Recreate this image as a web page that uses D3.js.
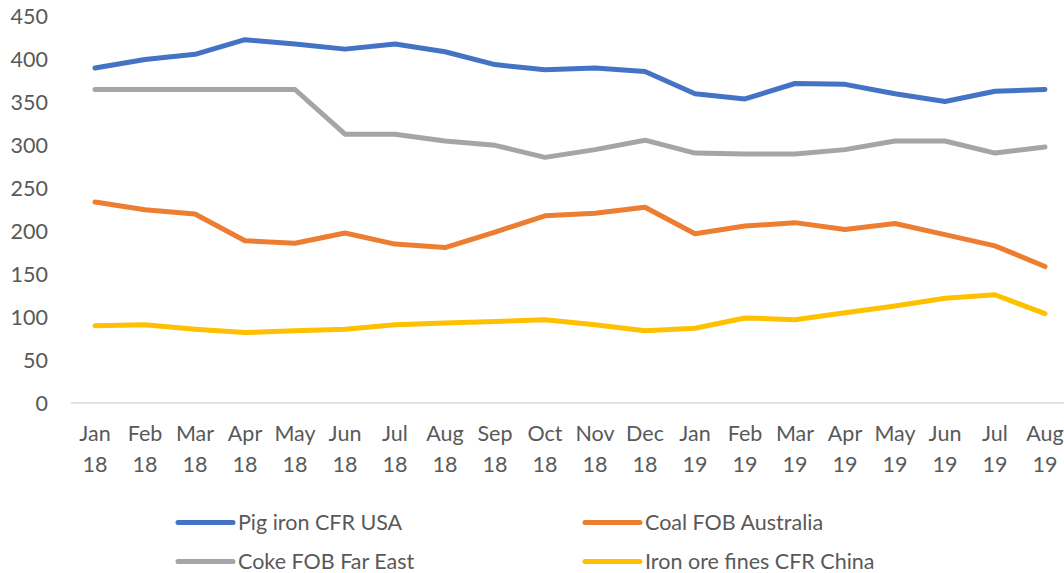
<!DOCTYPE html>
<html><head><meta charset="utf-8">
<script src="https://cdn.jsdelivr.net/npm/d3@7"></script>
<style>
body{margin:0;background:#fff;}
text{font-family:Lato,"Open Sans",sans-serif;fill:#595959;}
</style></head>
<body><svg id="c" width="1064" height="573"></svg>
<script>
const months = ["Jan","Feb","Mar","Apr","May","Jun","Jul","Aug","Sep","Oct","Nov","Dec","Jan","Feb","Mar","Apr","May","Jun","Jul","Aug"];
const years  = ["18","18","18","18","18","18","18","18","18","18","18","18","19","19","19","19","19","19","19","19"];
const categories = months.map((m,i)=>m+" "+years[i]);
const pigIron = [390,400,406,423,418,412,418,409,394,388,390,386,360,354,372,371,360,351,363,365];
const coke    = [365,365,365,365,365,313,313,305,300,286,295,306,291,290,290,295,305,305,291,298];
const coal    = [234,225,220,189,186,198,185,181,199,218,221,228,197,206,210,202,209,196,183,159];
const ironOre = [90,91,86,82,84,86,91,93,95,97,91,84,87,99,97,105,113,122,126,104];
const seriesNames = ["Pig iron CFR USA","Coal FOB Australia","Coke FOB Far East","Iron ore fines CFR China"];
const seriesColors = ["#4472C4","#ED7D31","#A5A5A5","#FFC000"];
const seriesData = [pigIron, coal, coke, ironOre];
const yTicks = [0,50,100,150,200,250,300,350,400,450];

const svg = d3.select("#c");
const x = d3.scaleBand().domain(categories).range([70,1070]);
const y = d3.scaleLinear().domain([0,450]).range([403,16.5]);
const fs = "21.5px";

svg.append("g").selectAll("text").data(yTicks).join("text")
  .attr("x",48).attr("y",d=>y(d)).attr("dy","0.35em")
  .attr("text-anchor","end").style("font-size",fs).text(d=>d);

svg.append("line").attr("x1",71).attr("x2",1064).attr("y1",y(0)).attr("y2",y(0))
  .attr("stroke","#d9d9d9").attr("stroke-width",1.5);

const xl = svg.append("g").selectAll("text").data(categories).join("text")
  .attr("text-anchor","middle").style("font-size",fs)
  .attr("transform",d=>`translate(${x(d)+x.bandwidth()/2},0)`);
xl.append("tspan").attr("x",0).attr("y",441).text((d,i)=>months[i]);
xl.append("tspan").attr("x",0).attr("y",472).text((d,i)=>years[i]);

const line = d3.line().x((d,i)=>x(categories[i])+x.bandwidth()/2).y(d=>y(d));
seriesData.forEach((s,k)=>{
  svg.append("path").datum(s).attr("d",line).attr("fill","none")
    .attr("stroke",seriesColors[k]).attr("stroke-width",5)
    .attr("stroke-linejoin","round").attr("stroke-linecap","round");
});

const legPos = [[178,522.5],[585,522.5],[178,561.5],[585,561.5]];
seriesNames.forEach((n,k)=>{
  const [lx,ly] = legPos[k];
  svg.append("line").attr("x1",lx).attr("x2",lx+55).attr("y1",ly).attr("y2",ly)
    .attr("stroke",seriesColors[k]).attr("stroke-width",5).attr("stroke-linecap","round");
  svg.append("text").attr("x",lx+60).attr("y",ly).attr("dy","0.35em")
    .style("font-size",fs).text(n);
});
</script></body></html>
